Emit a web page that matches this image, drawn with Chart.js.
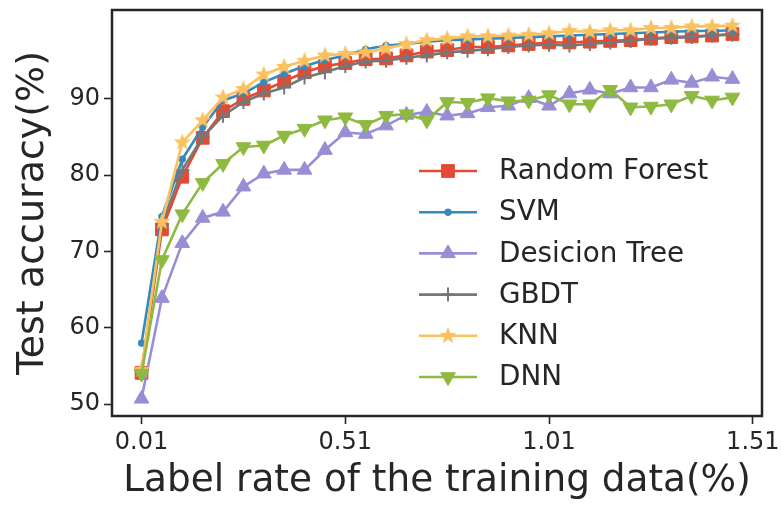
<!DOCTYPE html>
<html>
<head>
<meta charset="utf-8">
<script src="https://cdn.jsdelivr.net/npm/chart.js@4.4.1/dist/chart.umd.min.js"></script>
<style>
  html, body { margin: 0; padding: 0; background: #fff; }
  canvas { display: block; }
</style>
</head>
<body>
<canvas id="chart" width="781" height="505"></canvas>
<script>
// ------------------------------------------------------------
// Data
// ------------------------------------------------------------
const labelRates = [0.01, 0.06, 0.11, 0.16, 0.21, 0.26, 0.31, 0.36, 0.41, 0.46,
                    0.51, 0.56, 0.61, 0.66, 0.71, 0.76, 0.81, 0.86, 0.91, 0.96,
                    1.01, 1.06, 1.11, 1.16, 1.21, 1.26, 1.31, 1.36, 1.41, 1.46];

const randomForest = [54.1, 72.9, 79.8, 84.9, 88.4, 90.0, 91.1, 92.3, 93.5, 94.3,
                      94.7, 95.2, 95.3, 95.7, 96.2, 96.4, 96.8, 96.8, 97.0, 97.2,
                      97.4, 97.4, 97.5, 97.6, 97.7, 97.9, 98.1, 98.2, 98.3, 98.5];
const svm          = [58.0, 74.6, 82.1, 86.3, 89.8, 90.7, 92.2, 93.3, 94.3, 95.1,
                      95.7, 96.5, 97.0, 97.2, 97.5, 97.7, 97.8, 97.9, 98.0, 98.1,
                      98.2, 98.3, 98.4, 98.5, 98.6, 98.7, 98.8, 98.9, 98.9, 99.0];
const decisionTree = [50.7, 63.9, 71.1, 74.4, 75.2, 78.5, 80.2, 80.7, 80.7, 83.3,
                      85.6, 85.4, 86.5, 87.9, 88.3, 87.8, 88.1, 88.9, 89.1, 90.1,
                      89.1, 90.7, 91.2, 90.7, 91.5, 91.5, 92.5, 92.1, 92.9, 92.6];
const gbdt         = [54.3, 73.6, 80.7, 85.0, 87.8, 89.6, 90.7, 91.5, 92.8, 93.5,
                      94.3, 94.9, 95.0, 95.4, 95.7, 96.1, 96.3, 96.5, 96.8, 97.0,
                      97.1, 97.0, 97.2, 97.4, 97.6, 97.9, 98.0, 98.1, 98.3, 98.4];
const knn          = [54.5, 73.9, 84.3, 87.2, 90.2, 91.3, 93.2, 94.2, 95.0, 95.7,
                      95.9, 96.1, 96.6, 97.2, 97.7, 97.9, 98.2, 98.2, 98.3, 98.4,
                      98.6, 98.9, 98.8, 99.0, 99.0, 99.3, 99.3, 99.5, 99.5, 99.6];
const dnn          = [54.0, 68.9, 74.9, 79.0, 81.5, 83.7, 83.9, 85.2, 86.1, 87.2,
                      87.6, 86.6, 87.8, 88.0, 87.2, 89.6, 89.5, 90.1, 89.7, 89.8,
                      90.5, 89.3, 89.3, 91.2, 88.9, 89.0, 89.3, 90.4, 89.8, 90.2];

const xTicks = [0.01, 0.51, 1.01, 1.51];
const yTicks = [50, 60, 70, 80, 90];

// ------------------------------------------------------------
// Styling
// ------------------------------------------------------------
const INK = '#262626';
const FONT = "'DejaVu Sans', sans-serif";

// filled 5-point star marker (matplotlib '*')
function makeStar(color, r) {
    const size = Math.ceil(r * 2 + 2);
    const c = document.createElement('canvas');
    c.width = size; c.height = size;
    const g = c.getContext('2d');
    const cx = size / 2, cy = size / 2, inner = r * 0.42;
    g.beginPath();
    for (let k = 0; k < 10; k++) {
        const rad = k % 2 === 0 ? r : inner;
        const a = -Math.PI / 2 + k * Math.PI / 5;
        g.lineTo(cx + rad * Math.cos(a), cy + rad * Math.sin(a));
    }
    g.closePath();
    g.fillStyle = color;
    g.fill();
    return c;
}

const toPoints = arr => arr.map((v, i) => ({ x: labelRates[i], y: v }));

function series(label, data, color, marker, order) {
    return {
        label,
        data: toPoints(data),
        borderColor: color,
        backgroundColor: color,
        pointBackgroundColor: color,
        pointBorderColor: color,
        borderWidth: 2.6,
        tension: 0,
        pointStyle: marker.style,
        pointRadius: marker.radius,
        pointRotation: marker.rotation || 0,
        pointBorderWidth: marker.borderWidth || 1,
        order
    };
}

const datasets = [
    series('Random Forest', randomForest, '#E24A33', { style: 'rect', radius: 9 }, 5),
    series('SVM', svm, '#348ABD', { style: 'circle', radius: 3.3 }, 4),
    series('Desicion Tree', decisionTree, '#988ED5', { style: 'triangle', radius: 8.5 }, 3),
    series('GBDT', gbdt, '#777777', { style: 'cross', radius: 7, borderWidth: 2 }, 2),
    series('KNN', knn, '#FBC15E', { style: makeStar('#FBC15E', 9), radius: 9 }, 1),
    series('DNN', dnn, '#8EBA42', { style: 'triangle', radius: 8.5, rotation: 180 }, 0)
];

// ------------------------------------------------------------
// Plugins: frame around the axes + legend inside the plot
// ------------------------------------------------------------
const framePlugin = {
    id: 'frame',
    afterDatasetsDraw(chart) {
        const { ctx, chartArea: a } = chart;
        ctx.save();
        ctx.strokeStyle = INK;
        ctx.lineWidth = 2.5;
        ctx.strokeRect(a.left, a.top, a.right - a.left, a.bottom - a.top);
        ctx.restore();
    }
};

const legendPlugin = {
    id: 'innerLegend',
    afterDraw(chart) {
        const { ctx, chartArea: a } = chart;
        const x0 = a.left + 307, y0 = a.top + 161, step = 41.2;
        ctx.save();
        chart.data.datasets.forEach((ds, i) => {
            const y = y0 + i * step;
            ctx.strokeStyle = ds.borderColor;
            ctx.lineWidth = ds.borderWidth;
            ctx.beginPath();
            ctx.moveTo(x0, y);
            ctx.lineTo(x0 + 58, y);
            ctx.stroke();
            ctx.fillStyle = ds.pointBackgroundColor;
            ctx.strokeStyle = ds.pointBorderColor;
            ctx.lineWidth = ds.pointBorderWidth;
            Chart.helpers.drawPoint(ctx, {
                pointStyle: ds.pointStyle,
                radius: ds.pointRadius,
                rotation: ds.pointRotation,
                borderWidth: ds.pointBorderWidth
            }, x0 + 29, y);
            ctx.fillStyle = INK;
            ctx.font = '27.8px ' + FONT;
            ctx.textBaseline = 'middle';
            ctx.textAlign = 'left';
            ctx.fillText(ds.label, x0 + 80, y + 1);
        });
        ctx.restore();
    }
};

// ------------------------------------------------------------
// Chart
// ------------------------------------------------------------
const tickGrid = {
    display: true,
    drawOnChartArea: false,
    drawTicks: true,
    tickLength: 8,
    tickWidth: 1.6,
    tickColor: INK
};

new Chart(document.getElementById('chart').getContext('2d'), {
    type: 'line',
    data: { datasets },
    plugins: [framePlugin, legendPlugin],
    options: {
        responsive: false,
        animation: false,
        layout: { padding: { left: 0, top: 7, right: 19, bottom: 0 } },
        plugins: { legend: { display: false }, tooltip: { enabled: false } },
        scales: {
            x: {
                type: 'linear',
                min: -0.0625,
                max: 1.5325,
                grid: tickGrid,
                border: { display: false },
                afterBuildTicks: scale => { scale.ticks = xTicks.map(v => ({ value: v })); },
                afterFit: scale => {
                    scale.height = 89;
                    scale.paddingLeft = 0;
                    scale.paddingRight = 0;
                },
                ticks: {
                    autoSkip: false,
                    maxRotation: 0,
                    padding: 4,
                    color: INK,
                    font: { family: FONT, size: 24 },
                    callback: v => v.toFixed(2)
                },
                title: {
                    display: true,
                    text: 'Label rate of the training data(%)',
                    color: INK,
                    font: { family: FONT, size: 37.4 },
                    padding: { top: 0, bottom: 1 }
                }
            },
            y: {
                type: 'linear',
                min: 48.45,
                max: 101.65,
                grid: tickGrid,
                border: { display: false },
                afterBuildTicks: scale => { scale.ticks = yTicks.map(v => ({ value: v })); },
                afterFit: scale => {
                    scale.width = 112;
                    scale.paddingTop = 0;
                    scale.paddingBottom = 0;
                },
                ticks: {
                    padding: 4,
                    color: INK,
                    font: { family: FONT, size: 24 },
                    callback: v => String(v)
                },
                title: {
                    display: true,
                    text: 'Test accuracy(%)',
                    color: INK,
                    font: { family: FONT, size: 38 },
                    padding: { top: 10, bottom: 0 }
                }
            }
        }
    }
});
</script>
</body>
</html>
